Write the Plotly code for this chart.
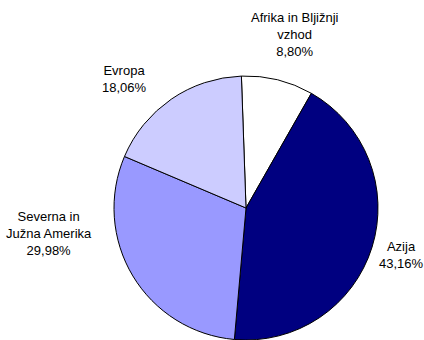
import plotly.graph_objects as go

# Regional shares, listed clockwise from 12 o'clock
regions = ["Afrika in Bljižnji vzhod", "Azija", "Severna in Južna Amerika", "Evropa"]
shares = [8.80, 43.16, 29.98, 18.06]
label_lines = [["Afrika in Bljižnji", "vzhod"], ["Azija"], ["Severna in", "Južna Amerika"], ["Evropa"]]
colors = ["#FFFFFF", "#000080", "#9999FF", "#CCCCFF"]

W, H = 424, 340

# label anchor positions in pixels (x centre, y of middle of block)
label_pos = [(295, 35), (401, 255), (49, 233), (124, 79)]

fig = go.Figure(
    go.Pie(
        labels=regions,
        values=shares,
        sort=False,
        direction="clockwise",
        rotation=-2,
        marker=dict(colors=colors, line=dict(color="#000000", width=1)),
        textinfo="none",
        hoverinfo="label+percent",
        domain=dict(x=[114 / W, 378 / W], y=[0, 264 / H]),
        showlegend=False,
    )
)

def fmt(v):
    return f"{v:.2f}".replace(".", ",") + "%"

for lines, v, (px, py) in zip(label_lines, shares, label_pos):
    text = "<br>".join(lines + [fmt(v)])
    fig.add_annotation(
        x=px / W, y=1 - py / H, xref="paper", yref="paper",
        text=text, showarrow=False, xanchor="center", yanchor="middle",
        align="center", font=dict(family="Arial, Liberation Sans, sans-serif", size=13, color="#000000"),
    )

fig.update_layout(
    width=W, height=H,
    margin=dict(l=0, r=0, t=0, b=0),
    paper_bgcolor="#FFFFFF",
    plot_bgcolor="#FFFFFF",
)

fig.write_html("out.html")
